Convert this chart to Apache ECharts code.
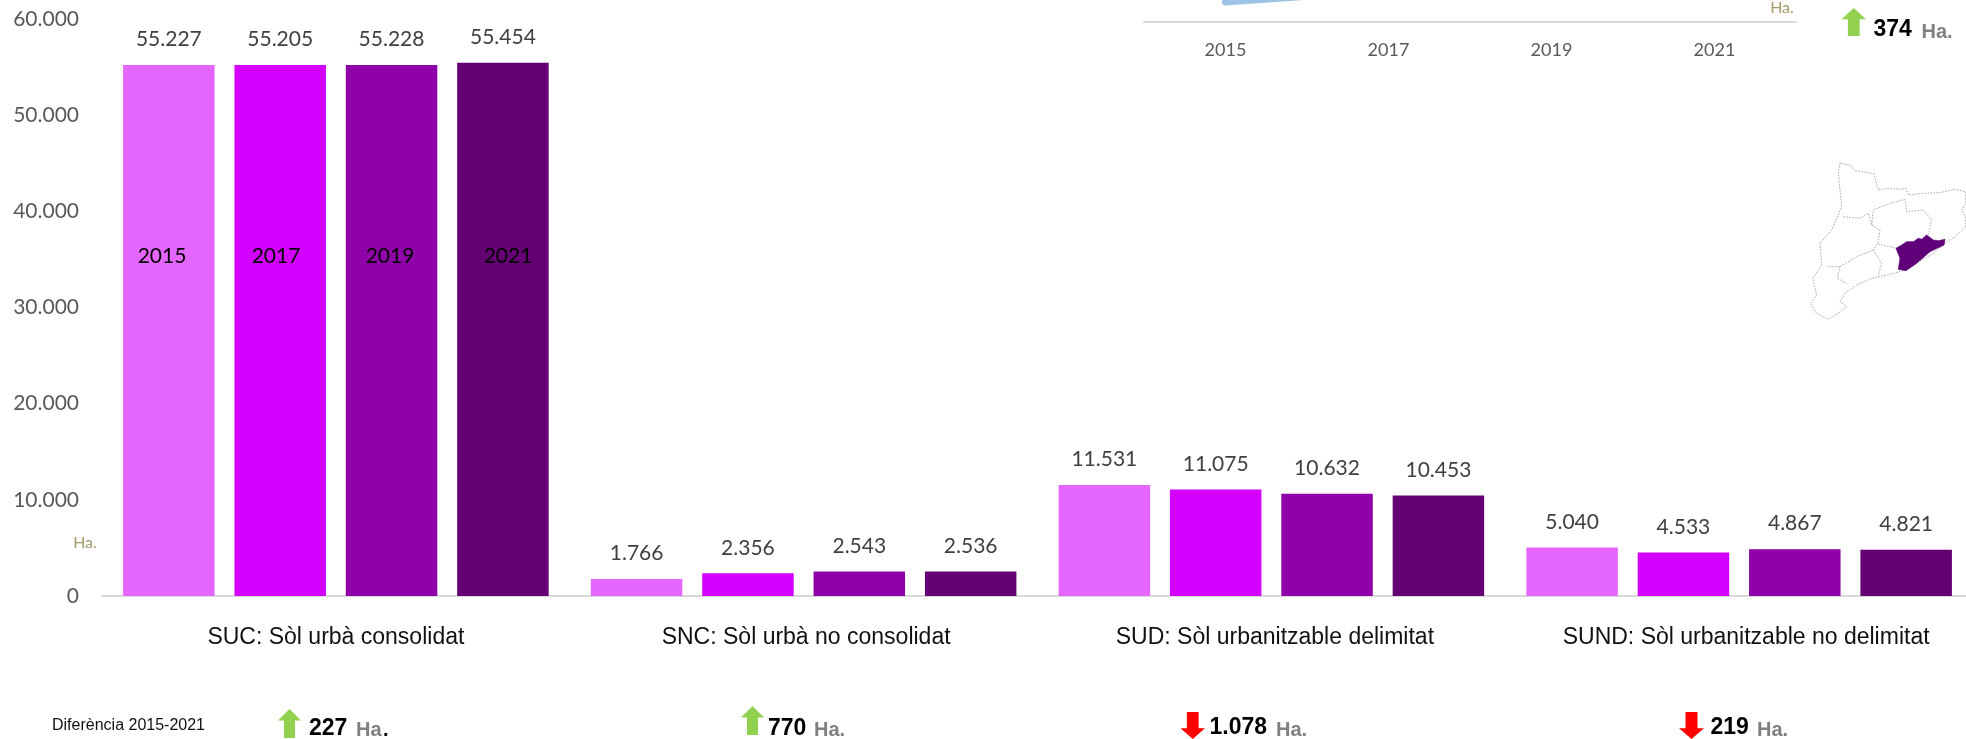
<!DOCTYPE html>
<html><head><meta charset="utf-8">
<style>html,body{margin:0;padding:0;background:#fff}#c{width:1966px;height:739px}</style>
<script src="https://cdn.jsdelivr.net/npm/echarts@6/dist/echarts.min.js"></script>
</head><body><div id="c"></div>
<script>
const categories = ['SUC: Sòl urbà consolidat','SNC: Sòl urbà no consolidat','SUD: Sòl urbanitzable delimitat','SUND: Sòl urbanitzable no delimitat'];
const years = ['2015','2017','2019','2021'];
const v2015 = [55227,1766,11531,5040];
const v2017 = [55205,2356,11075,4533];
const v2019 = [55228,2543,10632,4867];
const v2021 = [55454,2536,10453,4821];
const insetValues = [21000,21115,21290,21374];
const colors = ['#E566FF','#D400FF','#9000A8','#640073'];
const fmt = n => String(n).replace(/\B(?=(\d{3})+$)/g,'.');
const all = [v2015,v2017,v2019,v2021];

const chart = echarts.init(document.getElementById('c'),null,{renderer:'canvas'});

const txt = (x,y,t,font,fill,align)=>({type:'text',x,y,z:20,silent:true,style:{text:t,font,fill,textAlign:align||'left',textVerticalAlign:'middle'}});
const up = (x0,x1,y0,y1)=>{const w=x1-x0,m=x0+w/2,s=w*0.24,h=y0+(y1-y0)*0.4;
  return {type:'polygon',z:20,silent:true,shape:{points:[[m,y0],[x1,h],[m+s,h],[m+s,y1],[m-s,y1],[m-s,h],[x0,h]]},style:{fill:'#92D050'}};};
const down = (x0,x1,y0,y1)=>{const w=x1-x0,m=x0+w/2,s=w*0.24,h=y0+(y1-y0)*0.6;
  return {type:'polygon',z:20,silent:true,shape:{points:[[m,y1],[x1,h],[m+s,h],[m+s,y0],[m-s,y0],[m-s,h],[x0,h]]},style:{fill:'#FF0000'}};};
const B='bold 23px "Liberation Sans"', H='bold 20px "Liberation Sans"', G='#808080';
const mapStroke={stroke:'#8c8c8c',lineWidth:2.2,fill:null,lineDash:[5,4]};
const outer=[[120,38],[130,42],[150,45],[165,62],[190,65],[222,72],[228,95],[235,120],[265,115],[300,118],[318,115],[325,135],[370,130],[420,128],[465,118],[497,125],[497,160],[485,180],[497,200],[497,232],[465,260],[435,280],[400,310],[310,362],[270,373],[215,385],[170,405],[135,430],[120,455],[140,470],[115,490],[85,508],[50,490],[32,462],[50,435],[38,385],[65,345],[60,280],[95,240],[125,170],[115,70],[120,38]];
const inner=[
 [[130,200],[180,205],[205,190],[215,225],[240,240],[235,275],[220,300],[170,320],[120,350],[80,350]],
 [[215,225],[220,180],[270,160],[315,148],[320,185],[370,180],[395,210],[385,255]],
 [[220,300],[245,340],[235,375]],
 [[120,350],[112,385],[140,400]],
 [[235,282],[290,295]]];
const region=[[288,295],[305,285],[320,275],[340,275],[355,265],[365,268],[380,255],[400,270],[415,272],[435,268],[432,285],[390,305],[350,340],[318,362],[295,358],[300,325]];

const catRich={
  c0:{color:'#111',fontFamily:'Liberation Sans',fontSize:23},
  c1:{color:'#111',fontFamily:'Liberation Sans',fontSize:23,padding:[0,0,0,5]},
  c2:{color:'#111',fontFamily:'Liberation Sans',fontSize:23,padding:[0,0,0,7]},
  c3:{color:'#111',fontFamily:'Liberation Sans',fontSize:23,padding:[0,0,0,14]}
};

chart.setOption({
  animation:false,
  backgroundColor:'#fff',
  grid:[
    {left:102,top:19,width:1871,height:577,outerBoundsMode:'none'},
    {left:1144,top:-98,width:652,height:120,outerBoundsMode:'none'}
  ],
  xAxis:[
    {type:'category',gridIndex:0,data:categories,axisTick:{show:false},
     axisLine:{lineStyle:{color:'#D9D9D9',width:2}},
     axisLabel:{margin:30,interval:0,rich:catRich,
       formatter:(v,i)=>'{c'+i+'|'+v+'}'}},
    {type:'category',gridIndex:1,data:years,axisTick:{show:false},
     axisLine:{lineStyle:{color:'#D9D9D9',width:2}},
     axisLabel:{color:'#595959',fontFamily:'Lato',fontSize:18,margin:19}}
  ],
  yAxis:[
    {type:'value',gridIndex:0,min:0,max:60000,interval:10000,splitLine:{show:false},
     axisLine:{show:false},axisTick:{show:false},
     axisLabel:{color:'#595959',fontFamily:'Lato',fontSize:21,margin:23,formatter:fmt}},
    {type:'value',gridIndex:1,min:20800,max:22000,show:false,splitLine:{show:false}}
  ],
  series:[
    ...all.map((d,i)=>({type:'bar',name:years[i],xAxisIndex:0,yAxisIndex:0,data:d,barWidth:91.5,barGap:'21.7%',
      itemStyle:{color:colors[i]},
      label:{show:true,position:'top',distance:15,color:'#404040',fontFamily:'Lato',fontSize:21,formatter:p=>fmt(p.value)}})),
    {type:'line',name:'Total',xAxisIndex:1,yAxisIndex:1,data:insetValues,symbol:'none',
     lineStyle:{color:'#9DC3E6',width:7,cap:'round'}}
  ],
  graphic:[
    txt(162,256,years[0],'21px Lato','#000','center'),
    txt(276,256,years[1],'21px Lato','#000','center'),
    txt(390,256,years[2],'21px Lato','#000','center'),
    txt(508,256,years[3],'21px Lato','#000','center'),
    txt(85,543,'Ha.','16px Lato','#A59A6A','center'),
    txt(1782,8,'Ha.','16px Lato','#A59A6A','center'),
    txt(52,726,'Diferència 2015-2021','16px "Liberation Sans"','#111'),
    up(278,301,709,738), txt(309,729,'227',B,'#000'), txt(356,730,'Ha',H,G), txt(383,730,'.',H,'#000'),
    up(741,764,706,735), txt(768,729,'770',B,'#000'), txt(814,730,'Ha.',H,G),
    down(1180.5,1205,712,739), txt(1209.5,728,'1.078',B,'#000'), txt(1276,730,'Ha.',H,G),
    down(1679,1704,712,739), txt(1710.5,728,'219',B,'#000'), txt(1757,730,'Ha.',H,G),
    up(1841.5,1866,8,36), txt(1873.5,30,'374',B,'#000'), txt(1921.5,32,'Ha.',H,G),
    {type:'group',x:1800,y:150,scaleX:1/3,scaleY:1/3,silent:true,z:20,children:[
      {type:'polyline',z:20,shape:{points:outer},style:mapStroke},
      ...inner.map(p=>({type:'polyline',z:20,shape:{points:p},style:mapStroke})),
      {type:'polygon',z:21,shape:{points:region},style:{fill:'#5F0078',stroke:'#5F0078',lineWidth:2}}
    ]}
  ]
});
</script></body></html>
